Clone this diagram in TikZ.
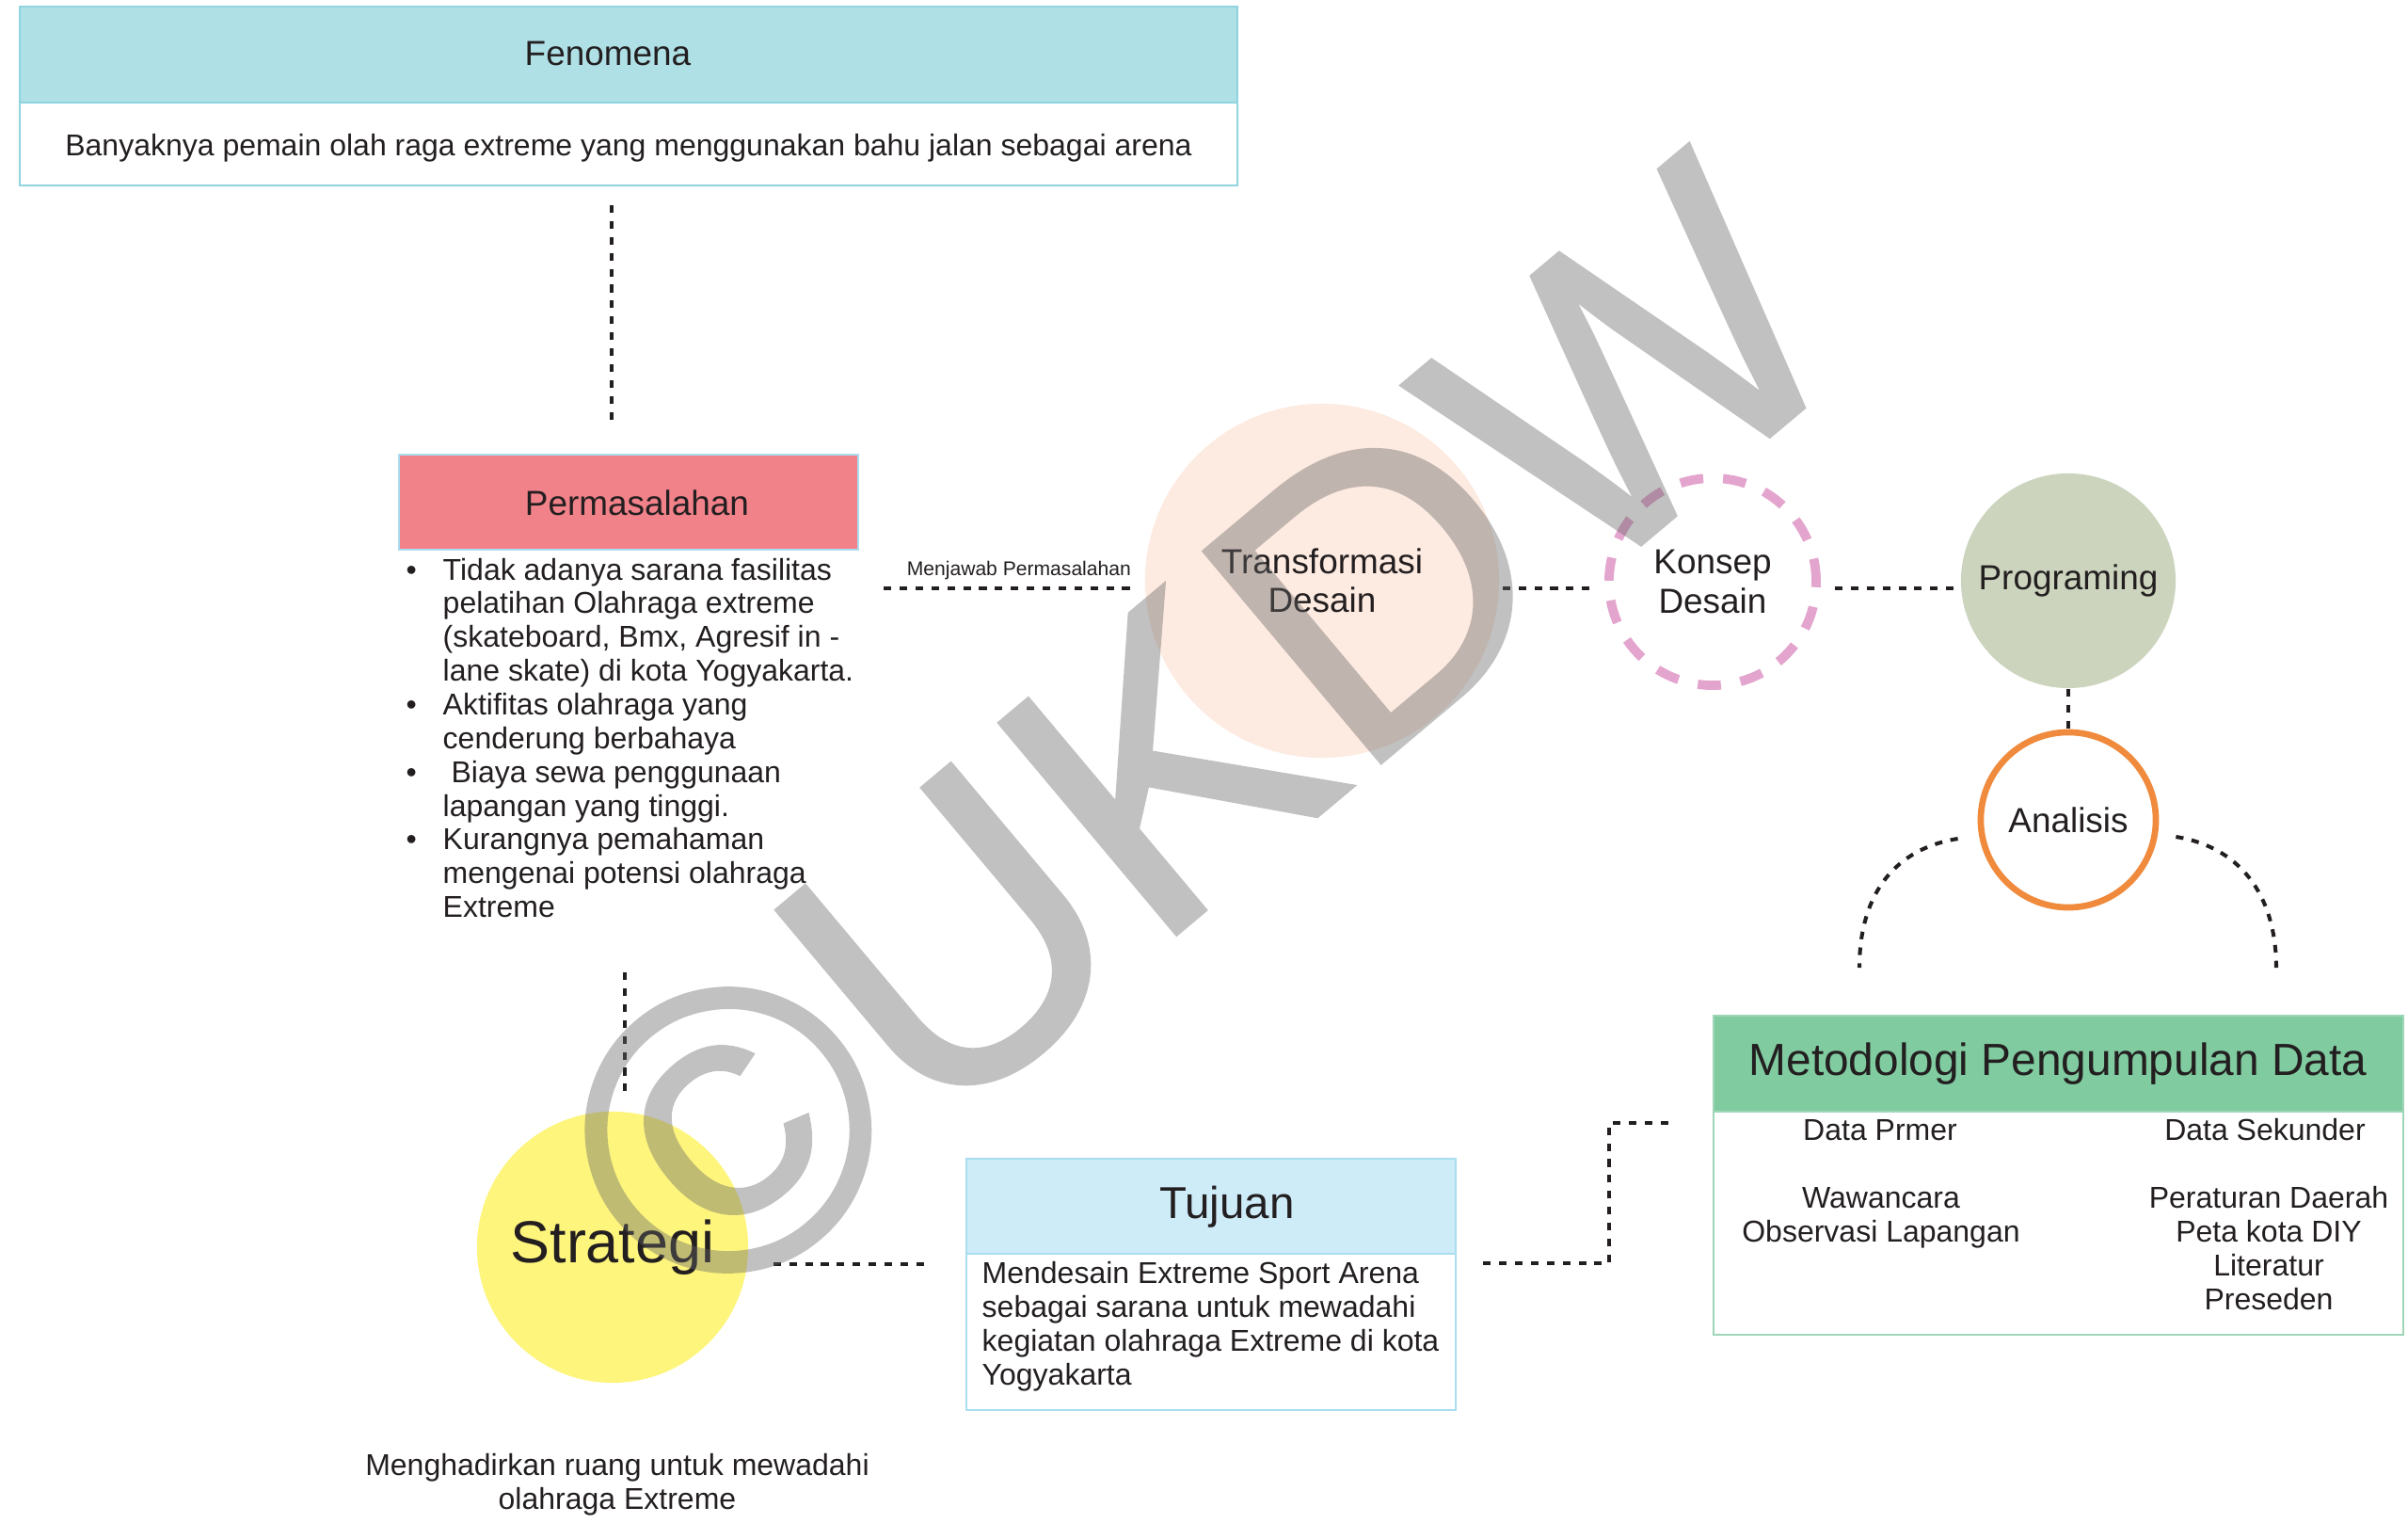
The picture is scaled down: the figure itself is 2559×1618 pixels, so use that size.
\documentclass[tikz,border=0pt]{standalone}
\usepackage{fontspec}
\setmainfont{Liberation Sans}
\newfontfamily\markfont[FakeBold=1]{Liberation Sans}
\usetikzlibrary{positioning}
\definecolor{inkBlack}{HTML}{231F20}
\definecolor{fenomenaBlue}{HTML}{AEE0E6}
\definecolor{fenomenaEdge}{HTML}{8FD4DF}
\definecolor{masalahPink}{HTML}{F2828A}
\definecolor{transPeach}{HTML}{FDEAE0}
\definecolor{konsepPink}{HTML}{E3A5CE}
\definecolor{progGreen}{HTML}{CCD4BE}
\definecolor{analisisOrange}{HTML}{F08A3C}
\definecolor{metodeGreen}{HTML}{80CBA0}
\definecolor{metodeEdge}{HTML}{9FD6B8}
\definecolor{tujuanBlue}{HTML}{CEEBF8}
\definecolor{tujuanEdge}{HTML}{A9DDEF}
\definecolor{strategiYellow}{HTML}{FEF57D}
\definecolor{markGray}{HTML}{646464}

\begin{document}
\begin{tikzpicture}[x=0.01cm,y=-0.01cm,
  every node/.style={inner sep=0pt, text=inkBlack},
  bodytext/.style={font=\fontsize{9.1}{10.2}\selectfont},
  headtext/.style={font=\fontsize{10.5}{11.7}\selectfont},
  titletext/.style={font=\fontsize{13.5}{15}\selectfont},
  panel/.style={draw=#1, line width=0.6pt},
  dotline/.style={draw=inkBlack, line width=1.15pt, dash pattern=on 2.3pt off 2.5pt},
]
\useasboundingbox (0,0) rectangle (2559,1618);

% Fenomena
\node[panel=fenomenaEdge, fill=fenomenaBlue, minimum width=12.94cm, minimum height=1.02cm] (fenomena) at (668,58) {};
\node[panel=fenomenaEdge, fill=white, minimum width=12.94cm, minimum height=0.88cm] (fenomenaBody) at (668,153) {};
\node[headtext, anchor=base] (fenomenaText) at (646,70) {Fenomena};
\node[bodytext, anchor=base] (fenomenaIsi) at (668,166) {Banyaknya pemain olah raga extreme yang menggunakan bahu jalan sebagai arena};

% Permasalahan
\node[panel=tujuanEdge, fill=masalahPink, minimum width=4.88cm, minimum height=1.01cm] (masalah) at (668,533.5) {};
\node[headtext, anchor=base] (masalahText) at (677,547) {Permasalahan};
\node[bodytext, anchor=base west] (problems) at (431,616) {%
  \begin{tabular}[t]{@{}p{0.39cm}@{}l@{}}
  \textbullet & Tidak adanya sarana fasilitas\\
   & pelatihan Olahraga extreme\\
   & (skateboard, Bmx, Agresif in -\\
   & lane skate) di kota Yogyakarta.\\
  \textbullet & Aktifitas olahraga yang\\
   & cenderung berbahaya\\
  \textbullet & \ Biaya sewa penggunaan\\
   & lapangan yang tinggi.\\
  \textbullet & Kurangnya pemahaman\\
   & mengenai potensi olahraga\\
   & Extreme
  \end{tabular}};

% circles
\node[circle, fill=transPeach, minimum size=3.76cm, headtext, align=center] (trans) at (1405,617) {Transformasi\\Desain};
\node[circle, draw=konsepPink, line width=2.8pt, dash pattern=on 7pt off 6pt, minimum size=2.2cm, headtext, align=center] (konsep) at (1820,618) {Konsep\\Desain};
\node[circle, fill=progGreen, minimum size=2.28cm, headtext] (prog) at (2198,617) {Programing};
\node[circle, draw=analisisOrange, line width=1.9pt, fill=white, minimum size=1.86cm, headtext] (analisis) at (2198,871) {Analisis};
\node[circle, fill=strategiYellow, minimum size=2.88cm, font=\fontsize{17.9}{20}\selectfont] (strategi) at (651,1325) {Strategi};
\node[bodytext, align=center, anchor=base] (strategiIsi) at (656,1603) {Menghadirkan ruang untuk mewadahi\\olahraga Extreme};

% Tujuan
\node[panel=tujuanEdge, fill=tujuanBlue, minimum width=5.2cm, minimum height=1.01cm] (tujuan) at (1287,1281.5) {};
\node[panel=tujuanEdge, fill=white, minimum width=5.2cm, minimum height=1.66cm] (tujuanBody) at (1287,1415) {};
\node[titletext, anchor=base] (tujuanText) at (1304,1294) {Tujuan};
\node[bodytext, align=left, anchor=base west] (tujuanIsi) at (1043,1471) {Mendesain Extreme Sport Arena\\sebagai sarana untuk mewadahi\\kegiatan olahraga Extreme di kota\\Yogyakarta};

% Metodologi
\node[panel=metodeEdge, fill=metodeGreen, minimum width=7.33cm, minimum height=1.02cm] (metode) at (2187.5,1130) {};
\node[panel=metodeEdge, fill=white, minimum width=7.33cm, minimum height=2.37cm] (metodeBody) at (2187.5,1299.5) {};
\node[font=\fontsize{13.6}{15}\selectfont, anchor=base] (metodeText) at (2187,1142) {Metodologi Pengumpulan Data};
\node[bodytext, anchor=base] (primer) at (1998,1211) {Data Prmer};
\node[bodytext, align=center, anchor=base] (primerIsi) at (1999,1319) {Wawancara\\Observasi Lapangan};
\node[bodytext, anchor=base] (sekunder) at (2407,1211) {Data Sekunder};
\node[bodytext, align=center, anchor=base] (sekunderIsi) at (2411,1391) {Peraturan Daerah\\Peta kota DIY\\Literatur\\Preseden};

% connectors
\draw[dotline, shorten <=0.2cm, shorten >=0.31cm] ([xshift=-0.18cm]fenomenaBody.south) -- ([xshift=-0.18cm]masalah.north);
\draw[dotline, shorten <=0.26cm, shorten >=0.09cm] ([yshift=-0.08cm]masalah.east |- trans.west) -- ([yshift=-0.08cm]trans.west)
  node[pos=0.56, above=0.07cm, font=\fontsize{6}{7}\selectfont] (jawab) {Menjawab Permasalahan};
\draw[dotline, shorten <=0.03cm, shorten >=0.1cm] ([yshift=-0.08cm]trans.east) -- ([yshift=-0.07cm]konsep.west);
\draw[dotline, shorten <=0.15cm, shorten >=0.07cm] ([yshift=-0.07cm]konsep.east) -- ([yshift=-0.08cm]prog.west);
\draw[dotline] (prog.south) -- (analisis.north);
\draw[dotline, shorten <=0.47cm, shorten >=0.14cm] ([xshift=0.13cm]strategi.north |- problems.south) -- ([xshift=0.13cm]strategi.north);
\draw[dotline, shorten <=0.26cm, shorten >=0.36cm] ([yshift=-0.18cm]strategi.east) -- ([yshift=-0.18cm]strategi.east -| tujuanBody.west);
\draw[dotline, shorten <=0.28cm, shorten >=0.47cm] ([yshift=-0.11cm]tujuanBody.north east) -- ++(162,0) |- ([yshift=-0.13cm]metodeBody.north west);

\coordinate (primerEnd) at (1976,1028);
\coordinate (sekunderEnd) at (2419,1028);
\draw[dotline] ([shift={(-21,20)}]analisis.west) .. controls +(-74,12) and +(0,-70) .. (primerEnd);
\draw[dotline] ([shift={(18,18)}]analisis.east) .. controls +(74,12) and +(0,-70) .. (sekunderEnd);

% watermark
\begin{scope}[transparency group, opacity=0.4]
\node[rotate=40, font=\markfont\fontsize{121}{121}\selectfont, text=markGray] (ukdw) at (1272,783) {©UKDW};
\end{scope}
\end{tikzpicture}
\end{document}
